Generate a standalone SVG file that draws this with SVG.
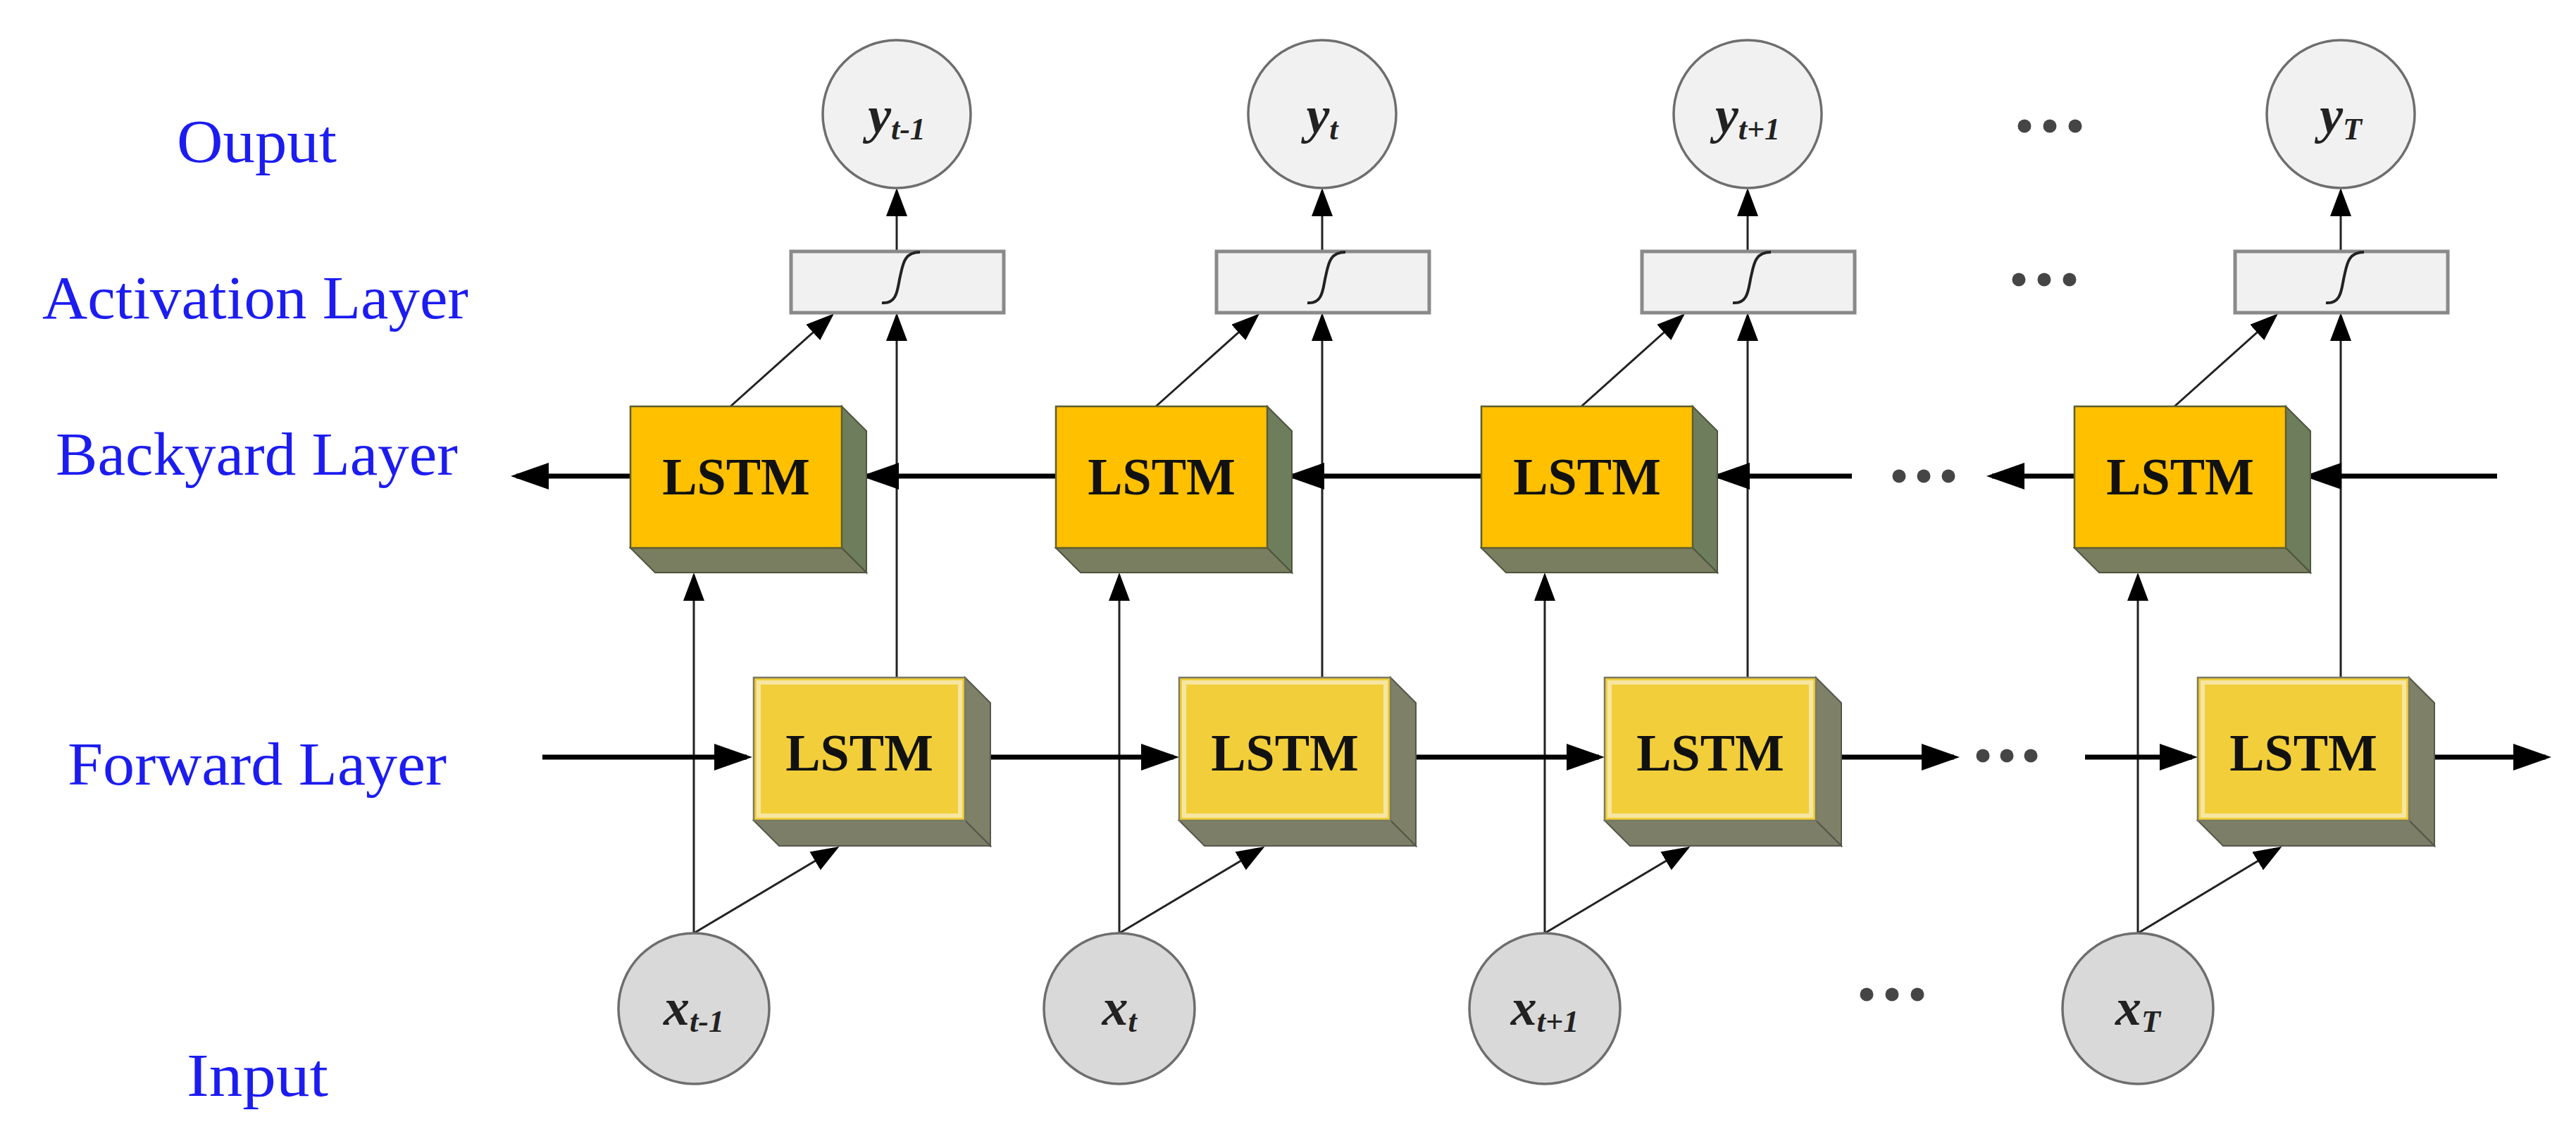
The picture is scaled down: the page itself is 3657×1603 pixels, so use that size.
<svg xmlns="http://www.w3.org/2000/svg" width="3657" height="1603" viewBox="0 0 3657 1603">
<defs>
<style>
.lbl{font-family:"Liberation Serif","Times New Roman",serif;font-size:86px;fill:#1c1cf0}
.lstm{font-family:"Liberation Serif","Times New Roman",serif;font-size:74px;font-weight:bold;fill:#111;text-anchor:middle}
.var{font-family:"Liberation Serif","Times New Roman",serif;font-size:74px;font-weight:bold;font-style:italic;fill:#222;text-anchor:middle}
.sub{font-size:44px}
.yc{fill:#f1f1f1;stroke:#6e6e6e;stroke-width:3.5}
.xc{fill:#d9d9d9;stroke:#6e6e6e;stroke-width:3.5}
.act{fill:#f1f1f1;stroke:#8a8a8a;stroke-width:5}
.sig{fill:none;stroke:#222;stroke-width:4}
.bfront{fill:#ffc000;stroke:#5e5e30;stroke-width:2.5}
.bside{fill:#6e7d5c;stroke:#4e553e;stroke-width:2}
.bbot{fill:#7a7e60;stroke:#4e553e;stroke-width:2}
.ffront{fill:#f2cf3a;stroke:#7a7a62;stroke-width:2.5}
.finner{fill:none;stroke:#f6e6a2;stroke-width:6}
.fside{fill:#7e8068;stroke:#55574a;stroke-width:2}
.fbot{fill:#7c7e67;stroke:#55574a;stroke-width:2}
.thin{stroke:#222;stroke-width:3;fill:none;marker-end:url(#ah)}
.bold{stroke:#000;stroke-width:7;fill:none;marker-end:url(#ahb)}
.dot{fill:#454545}
</style>
<marker id="ah" markerUnits="userSpaceOnUse" markerWidth="40" markerHeight="30" refX="36" refY="15" orient="auto">
<path d="M0,0 L40,15 L0,30 Z" fill="#000"/>
</marker>
<marker id="ahb" markerUnits="userSpaceOnUse" markerWidth="54" markerHeight="38" refX="46" refY="19" orient="auto">
<path d="M0,0 L54,19 L0,38 Z" fill="#000"/>
</marker>
</defs>
<rect width="3657" height="1603" fill="#fff"/>

<g id="labels">
<text class="lbl" x="251" y="230" textLength="227" lengthAdjust="spacingAndGlyphs">Ouput</text>
<text class="lbl" x="60" y="452" textLength="605" lengthAdjust="spacingAndGlyphs">Activation Layer</text>
<text class="lbl" x="79" y="674" textLength="571" lengthAdjust="spacingAndGlyphs">Backyard Layer</text>
<text class="lbl" x="96" y="1114" textLength="538" lengthAdjust="spacingAndGlyphs">Forward Layer</text>
<text class="lbl" x="265" y="1556" textLength="201" lengthAdjust="spacingAndGlyphs">Input</text>
</g>

<g id="connectors">
<!-- column 1 (cx=985) -->
<line class="thin" x1="985" y1="1325" x2="985" y2="817"/>
<line class="thin" x1="985" y1="1325" x2="1188" y2="1204"/>
<line class="thin" x1="1273" y1="962" x2="1273" y2="448"/>
<line class="thin" x1="1037" y1="577" x2="1181" y2="448"/>
<line class="thin" x1="1273" y1="357" x2="1273" y2="271"/>
<!-- column 2 (cx=1589) -->
<line class="thin" x1="1589" y1="1325" x2="1589" y2="817"/>
<line class="thin" x1="1589" y1="1325" x2="1792" y2="1204"/>
<line class="thin" x1="1877" y1="962" x2="1877" y2="448"/>
<line class="thin" x1="1641" y1="577" x2="1785" y2="448"/>
<line class="thin" x1="1877" y1="357" x2="1877" y2="271"/>
<!-- column 3 (cx=2193) -->
<line class="thin" x1="2193" y1="1325" x2="2193" y2="817"/>
<line class="thin" x1="2193" y1="1325" x2="2396" y2="1204"/>
<line class="thin" x1="2481" y1="962" x2="2481" y2="448"/>
<line class="thin" x1="2245" y1="577" x2="2389" y2="448"/>
<line class="thin" x1="2481" y1="357" x2="2481" y2="271"/>
<!-- column 4 (cx=3035) -->
<line class="thin" x1="3035" y1="1325" x2="3035" y2="817"/>
<line class="thin" x1="3035" y1="1325" x2="3236" y2="1204"/>
<line class="thin" x1="3323" y1="962" x2="3323" y2="448"/>
<line class="thin" x1="3087" y1="577" x2="3231" y2="448"/>
<line class="thin" x1="3323" y1="357" x2="3323" y2="271"/>
<!-- backward chain -->
<line class="bold" x1="895" y1="676" x2="733" y2="676"/>
<line class="bold" x1="1499" y1="676" x2="1230" y2="676"/>
<line class="bold" x1="2103" y1="676" x2="1834" y2="676"/>
<line class="bold" x1="2629" y1="676" x2="2438" y2="676"/>
<line class="bold" x1="2945" y1="676" x2="2828" y2="676"/>
<line class="bold" x1="3545" y1="676" x2="3278" y2="676"/>
<!-- forward chain -->
<line class="bold" x1="770" y1="1075" x2="1060" y2="1075"/>
<line class="bold" x1="1390" y1="1075" x2="1666" y2="1075"/>
<line class="bold" x1="1994" y1="1075" x2="2270" y2="1075"/>
<line class="bold" x1="2596" y1="1075" x2="2774" y2="1075"/>
<line class="bold" x1="2960" y1="1075" x2="3112" y2="1075"/>
<line class="bold" x1="3440" y1="1075" x2="3614" y2="1075"/>
</g>

<g id="dots">
<circle class="dot" cx="2874" cy="179" r="9.5"/><circle class="dot" cx="2910" cy="179" r="9.5"/><circle class="dot" cx="2946" cy="179" r="9.5"/>
<circle class="dot" cx="2866" cy="397" r="9.5"/><circle class="dot" cx="2902" cy="397" r="9.5"/><circle class="dot" cx="2938" cy="397" r="9.5"/>
<circle class="dot" cx="2696" cy="676" r="9.5"/><circle class="dot" cx="2731" cy="676" r="9.5"/><circle class="dot" cx="2766" cy="676" r="9.5"/>
<circle class="dot" cx="2815" cy="1073" r="9.5"/><circle class="dot" cx="2849" cy="1073" r="9.5"/><circle class="dot" cx="2883" cy="1073" r="9.5"/>
<circle class="dot" cx="2650" cy="1412" r="9.5"/><circle class="dot" cx="2686" cy="1412" r="9.5"/><circle class="dot" cx="2722" cy="1412" r="9.5"/>
</g>

<!-- Column 1 -->
<g id="y_t-1">
<circle class="yc" cx="1273" cy="162" r="105"/>
<text class="var" x="1273" y="188">y<tspan class="sub" dy="10">t-1</tspan></text>
</g>
<g id="act_1">
<rect class="act" x="1123" y="357" width="302" height="87"/>
<path class="sig" d="M1252,430 C1275,432 1274,408 1278,392 C1282,374 1284,358 1306,358"/>
</g>
<g id="back_1">
<polygon class="bside" points="1195,577 1230,612 1230,813 1195,778"/>
<polygon class="bbot" points="895,778 1195,778 1230,813 930,813"/>
<rect class="bfront" x="895" y="577" width="300" height="201"/>
<text class="lstm" x="1045" y="702">LSTM</text>
</g>
<g id="fwd_1">
<polygon class="fside" points="1370,962 1406,998 1406,1201 1370,1165"/>
<polygon class="fbot" points="1070,1165 1370,1165 1406,1201 1106,1201"/>
<rect class="ffront" x="1070" y="962" width="300" height="203"/>
<rect class="finner" x="1077" y="969" width="286" height="189"/>
<text class="lstm" x="1220" y="1094">LSTM</text>
</g>
<g id="x_t-1">
<circle class="xc" cx="985" cy="1432" r="107"/>
<text class="var" x="985" y="1455">x<tspan class="sub" dy="10">t-1</tspan></text>
</g>

<!-- Column 2 -->
<g id="y_t">
<circle class="yc" cx="1877" cy="162" r="105"/>
<text class="var" x="1877" y="188">y<tspan class="sub" dy="10">t</tspan></text>
</g>
<g id="act_2">
<rect class="act" x="1727" y="357" width="302" height="87"/>
<path class="sig" d="M1856,430 C1879,432 1878,408 1882,392 C1886,374 1888,358 1910,358"/>
</g>
<g id="back_2">
<polygon class="bside" points="1799,577 1834,612 1834,813 1799,778"/>
<polygon class="bbot" points="1499,778 1799,778 1834,813 1534,813"/>
<rect class="bfront" x="1499" y="577" width="300" height="201"/>
<text class="lstm" x="1649" y="702">LSTM</text>
</g>
<g id="fwd_2">
<polygon class="fside" points="1974,962 2010,998 2010,1201 1974,1165"/>
<polygon class="fbot" points="1674,1165 1974,1165 2010,1201 1710,1201"/>
<rect class="ffront" x="1674" y="962" width="300" height="203"/>
<rect class="finner" x="1681" y="969" width="286" height="189"/>
<text class="lstm" x="1824" y="1094">LSTM</text>
</g>
<g id="x_t">
<circle class="xc" cx="1589" cy="1432" r="107"/>
<text class="var" x="1589" y="1455">x<tspan class="sub" dy="10">t</tspan></text>
</g>

<!-- Column 3 -->
<g id="y_t+1">
<circle class="yc" cx="2481" cy="162" r="105"/>
<text class="var" x="2481" y="188">y<tspan class="sub" dy="10">t+1</tspan></text>
</g>
<g id="act_3">
<rect class="act" x="2331" y="357" width="302" height="87"/>
<path class="sig" d="M2460,430 C2483,432 2482,408 2486,392 C2490,374 2492,358 2514,358"/>
</g>
<g id="back_3">
<polygon class="bside" points="2403,577 2438,612 2438,813 2403,778"/>
<polygon class="bbot" points="2103,778 2403,778 2438,813 2138,813"/>
<rect class="bfront" x="2103" y="577" width="300" height="201"/>
<text class="lstm" x="2253" y="702">LSTM</text>
</g>
<g id="fwd_3">
<polygon class="fside" points="2578,962 2614,998 2614,1201 2578,1165"/>
<polygon class="fbot" points="2278,1165 2578,1165 2614,1201 2314,1201"/>
<rect class="ffront" x="2278" y="962" width="300" height="203"/>
<rect class="finner" x="2285" y="969" width="286" height="189"/>
<text class="lstm" x="2428" y="1094">LSTM</text>
</g>
<g id="x_t+1">
<circle class="xc" cx="2193" cy="1432" r="107"/>
<text class="var" x="2193" y="1455">x<tspan class="sub" dy="10">t+1</tspan></text>
</g>

<!-- Column 4 -->
<g id="y_T">
<circle class="yc" cx="3323" cy="162" r="105"/>
<text class="var" x="3323" y="188">y<tspan class="sub" dy="10">T</tspan></text>
</g>
<g id="act_4">
<rect class="act" x="3173" y="357" width="302" height="87"/>
<path class="sig" d="M3302,430 C3325,432 3324,408 3328,392 C3332,374 3334,358 3356,358"/>
</g>
<g id="back_4">
<polygon class="bside" points="3245,577 3280,612 3280,813 3245,778"/>
<polygon class="bbot" points="2945,778 3245,778 3280,813 2980,813"/>
<rect class="bfront" x="2945" y="577" width="300" height="201"/>
<text class="lstm" x="3095" y="702">LSTM</text>
</g>
<g id="fwd_4">
<polygon class="fside" points="3420,962 3456,998 3456,1201 3420,1165"/>
<polygon class="fbot" points="3120,1165 3420,1165 3456,1201 3156,1201"/>
<rect class="ffront" x="3120" y="962" width="300" height="203"/>
<rect class="finner" x="3127" y="969" width="286" height="189"/>
<text class="lstm" x="3270" y="1094">LSTM</text>
</g>
<g id="x_T">
<circle class="xc" cx="3035" cy="1432" r="107"/>
<text class="var" x="3035" y="1455">x<tspan class="sub" dy="10">T</tspan></text>
</g>
</svg>
